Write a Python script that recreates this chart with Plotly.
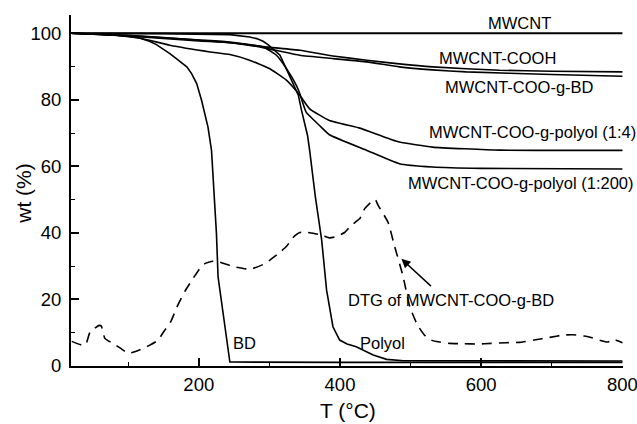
import plotly.graph_objects as go

# ---------------- data ----------------
T_mwcnt = [20, 200, 400, 600, 800]
wt_mwcnt = [100, 100, 100, 100, 100]

T_cooh = [20, 100, 200, 244, 291, 343, 390, 438, 484, 531, 626, 700, 800]
wt_cooh = [100, 99.4, 98.0, 97.4, 96.0, 94.9, 93.2, 91.9, 90.8, 89.9, 88.9, 88.6, 88.4]

T_bdg = [20, 100, 200, 244, 291, 343, 390, 438, 484, 531, 579, 700, 800]
wt_bdg = [100, 99.2, 97.7, 97.2, 95.7, 93.4, 92.4, 91.4, 89.9, 89.0, 88.4, 87.6, 87.1]

T_p14 = [20, 80, 116, 159, 216, 244, 272, 300, 324, 343, 357, 385, 428, 484, 531, 626, 800]
wt_p14 = [100, 99.5, 98.6, 96.4, 94.4, 93.6, 91.9, 89.4, 85.9, 81.4, 77.3, 73.8, 71.5, 67.3, 65.8, 64.9, 64.8]

T_p200 = [20, 100, 200, 291, 310, 324, 338, 343, 352, 371, 385, 438, 484, 531, 600, 800]
wt_p200 = [100, 99.3, 98.0, 95.9, 93.4, 89.4, 84.4, 81.9, 76.3, 72.3, 69.5, 64.8, 60.8, 59.8, 59.4, 59.2]

T_polyol = [20, 150, 244, 260, 272, 282, 291, 298, 305, 315, 324, 333, 341, 345, 350, 354, 357,
            365, 374, 381, 390, 399.5, 410, 423, 447, 466, 490, 600, 800]
wt_polyol = [100, 99.9, 99.6, 99.3, 98.9, 98.4, 97.6, 96.6, 95.4, 93.4, 89.3, 85.3, 81.4, 77.3,
             72.3, 69.3, 64.8, 51.0, 37.9, 22.8, 11.8, 7.8, 6.6, 5.8, 3.3, 2.0, 1.6, 1.5, 1.5]

T_bd = [20, 80, 116, 130, 140, 150, 159, 170, 183, 190, 197, 204, 213, 218, 220, 222.6, 225,
        227.3, 244, 400, 800]
wt_bd = [100, 99.5, 98.6, 97.6, 96.6, 95.3, 93.9, 92.1, 89.9, 87.8, 84.9, 79.8, 71.8, 64.8, 57.8,
         49.8, 39.8, 26.8, 1.2, 1.1, 1.1]

T_dtg = [20, 37, 41, 46, 59, 62, 67, 79, 90, 100, 108, 120, 130, 142, 150, 160, 169, 181, 190, 201,
         208, 220, 230, 244, 253, 267, 275, 293, 300, 312, 324, 333, 343, 352, 362, 376, 385, 395,
         407, 416, 428, 435, 447, 450, 454, 468, 477, 489, 499, 510, 520, 530, 541, 555, 576, 595,
         614, 635, 654, 675, 697, 716, 730, 746, 758, 770, 779, 789, 800]
wt_dtg = [7.4, 6.2, 7.0, 10.2, 12.2, 12.0, 8.3, 6.7, 5.2, 3.8, 4.2, 5.2, 6.2, 7.7, 10.2, 13.2, 17.7,
          22.7, 25.7, 29.2, 30.7, 31.5, 31.2, 30.2, 29.7, 29.2, 29.2, 30.7, 31.7, 33.7, 35.9, 38.5,
          40.1, 40.2, 39.9, 39.2, 38.5, 38.9, 40.2, 42.3, 44.3, 47.3, 49.8, 50.0, 48.3, 43.2, 36.2,
          27.2, 17.7, 12.2, 9.2, 7.7, 7.2, 6.8, 6.7, 6.6, 6.8, 7.0, 7.1, 7.8, 8.6, 9.3, 9.4, 9.0,
          8.4, 7.6, 7.2, 7.9, 7.0]

x_ticks = [200, 400, 600, 800]
x_ticklabels = ["200", "400", "600", "800"]
x_minor = [100, 300, 500, 700]
y_ticks = [0, 20, 40, 60, 80, 100]
y_ticklabels = ["0", "20", "40", "60", "80", "100"]
y_minor = [10, 30, 50, 70, 90]

labels = ["MWCNT", "MWCNT-COOH", "MWCNT-COO-g-BD", "MWCNT-COO-g-polyol (1:4)",
          "MWCNT-COO-g-polyol (1:200)", "BD", "Polyol", "DTG of MWCNT-COO-g-BD"]
label_T = [607, 538, 546, 523, 493, 246, 425, 409]
label_wt = [103.0, 92.5, 83.9, 70.2, 55.1, 6.8, 7.0, 19.8]

arrow_head = (487, 32.2)
arrow_tail = (531, 23.6)

# ---------------- figure ----------------
FONT = "Liberation Sans, Arial, sans-serif"
fig = go.Figure()

smooth = [(T_mwcnt, wt_mwcnt, 2.0), (T_cooh, wt_cooh, 1.6), (T_bdg, wt_bdg, 1.6),
          (T_p14, wt_p14, 1.6), (T_p200, wt_p200, 1.6)]
for xs, ys, w in smooth:
    fig.add_trace(go.Scatter(x=xs, y=ys, mode="lines",
                             line=dict(color="black", width=w, shape="spline", smoothing=0.4),
                             showlegend=False, hoverinfo="skip"))
for xs, ys in [(T_polyol, wt_polyol), (T_bd, wt_bd)]:
    fig.add_trace(go.Scatter(x=xs, y=ys, mode="lines",
                             line=dict(color="black", width=1.6),
                             showlegend=False, hoverinfo="skip"))

fig.add_trace(go.Scatter(x=T_dtg, y=wt_dtg, mode="lines",
                         line=dict(color="black", width=1.6, dash="10px,7px",
                                   shape="spline", smoothing=0.5),
                         showlegend=False, hoverinfo="skip"))

for txt, tx, ty in zip(labels, label_T, label_wt):
    fig.add_annotation(x=tx, y=ty, xref="x", yref="y", text=txt, showarrow=False,
                       xanchor="left", yanchor="middle",
                       font=dict(family=FONT, size=16.5, color="black"))

fig.add_annotation(x=arrow_head[0], y=arrow_head[1], ax=arrow_tail[0], ay=arrow_tail[1],
                   xref="x", yref="y", axref="x", ayref="y", text="", showarrow=True,
                   arrowhead=2, arrowsize=1.2, arrowwidth=1.5, arrowcolor="black", standoff=0)

fig.add_annotation(x=0.501, y=-0.128, xref="paper", yref="paper", text="T (°C)",
                   showarrow=False, xanchor="center", yanchor="middle",
                   font=dict(family=FONT, size=21, color="black"))
fig.add_annotation(x=-0.085, y=0.491, xref="paper", yref="paper", text="wt (%)",
                   showarrow=False, xanchor="center", yanchor="middle", textangle=-90,
                   font=dict(family=FONT, size=21, color="black"))

axis_common = dict(showgrid=False, zeroline=False, showline=True, linecolor="black",
                   linewidth=2, ticks="inside", ticklen=8, tickwidth=1.5, tickcolor="black",
                   tickfont=dict(family=FONT, size=18.5, color="black"), mirror=False,
                   ticklabeloverflow="allow", automargin=False)

fig.update_xaxes(range=[19, 800.8], tickvals=x_ticks, ticktext=x_ticklabels,
                 minor=dict(tickvals=x_minor, ticks="inside", ticklen=4,
                            tickwidth=1.2, tickcolor="black"),
                 ticklabelstandoff=1, **axis_common)
fig.update_yaxes(range=[0, 105.5], tickvals=y_ticks, ticktext=y_ticklabels,
                 minor=dict(tickvals=y_minor, ticks="inside", ticklen=4,
                            tickwidth=1.2, tickcolor="black"),
                 ticklabelstandoff=4, **axis_common)

fig.update_layout(width=637, height=424, margin=dict(l=71, r=14, t=15, b=58, autoexpand=False),
                  paper_bgcolor="white", plot_bgcolor="white", showlegend=False,
                  font=dict(family=FONT, color="black"))

fig.write_html("out.html")
